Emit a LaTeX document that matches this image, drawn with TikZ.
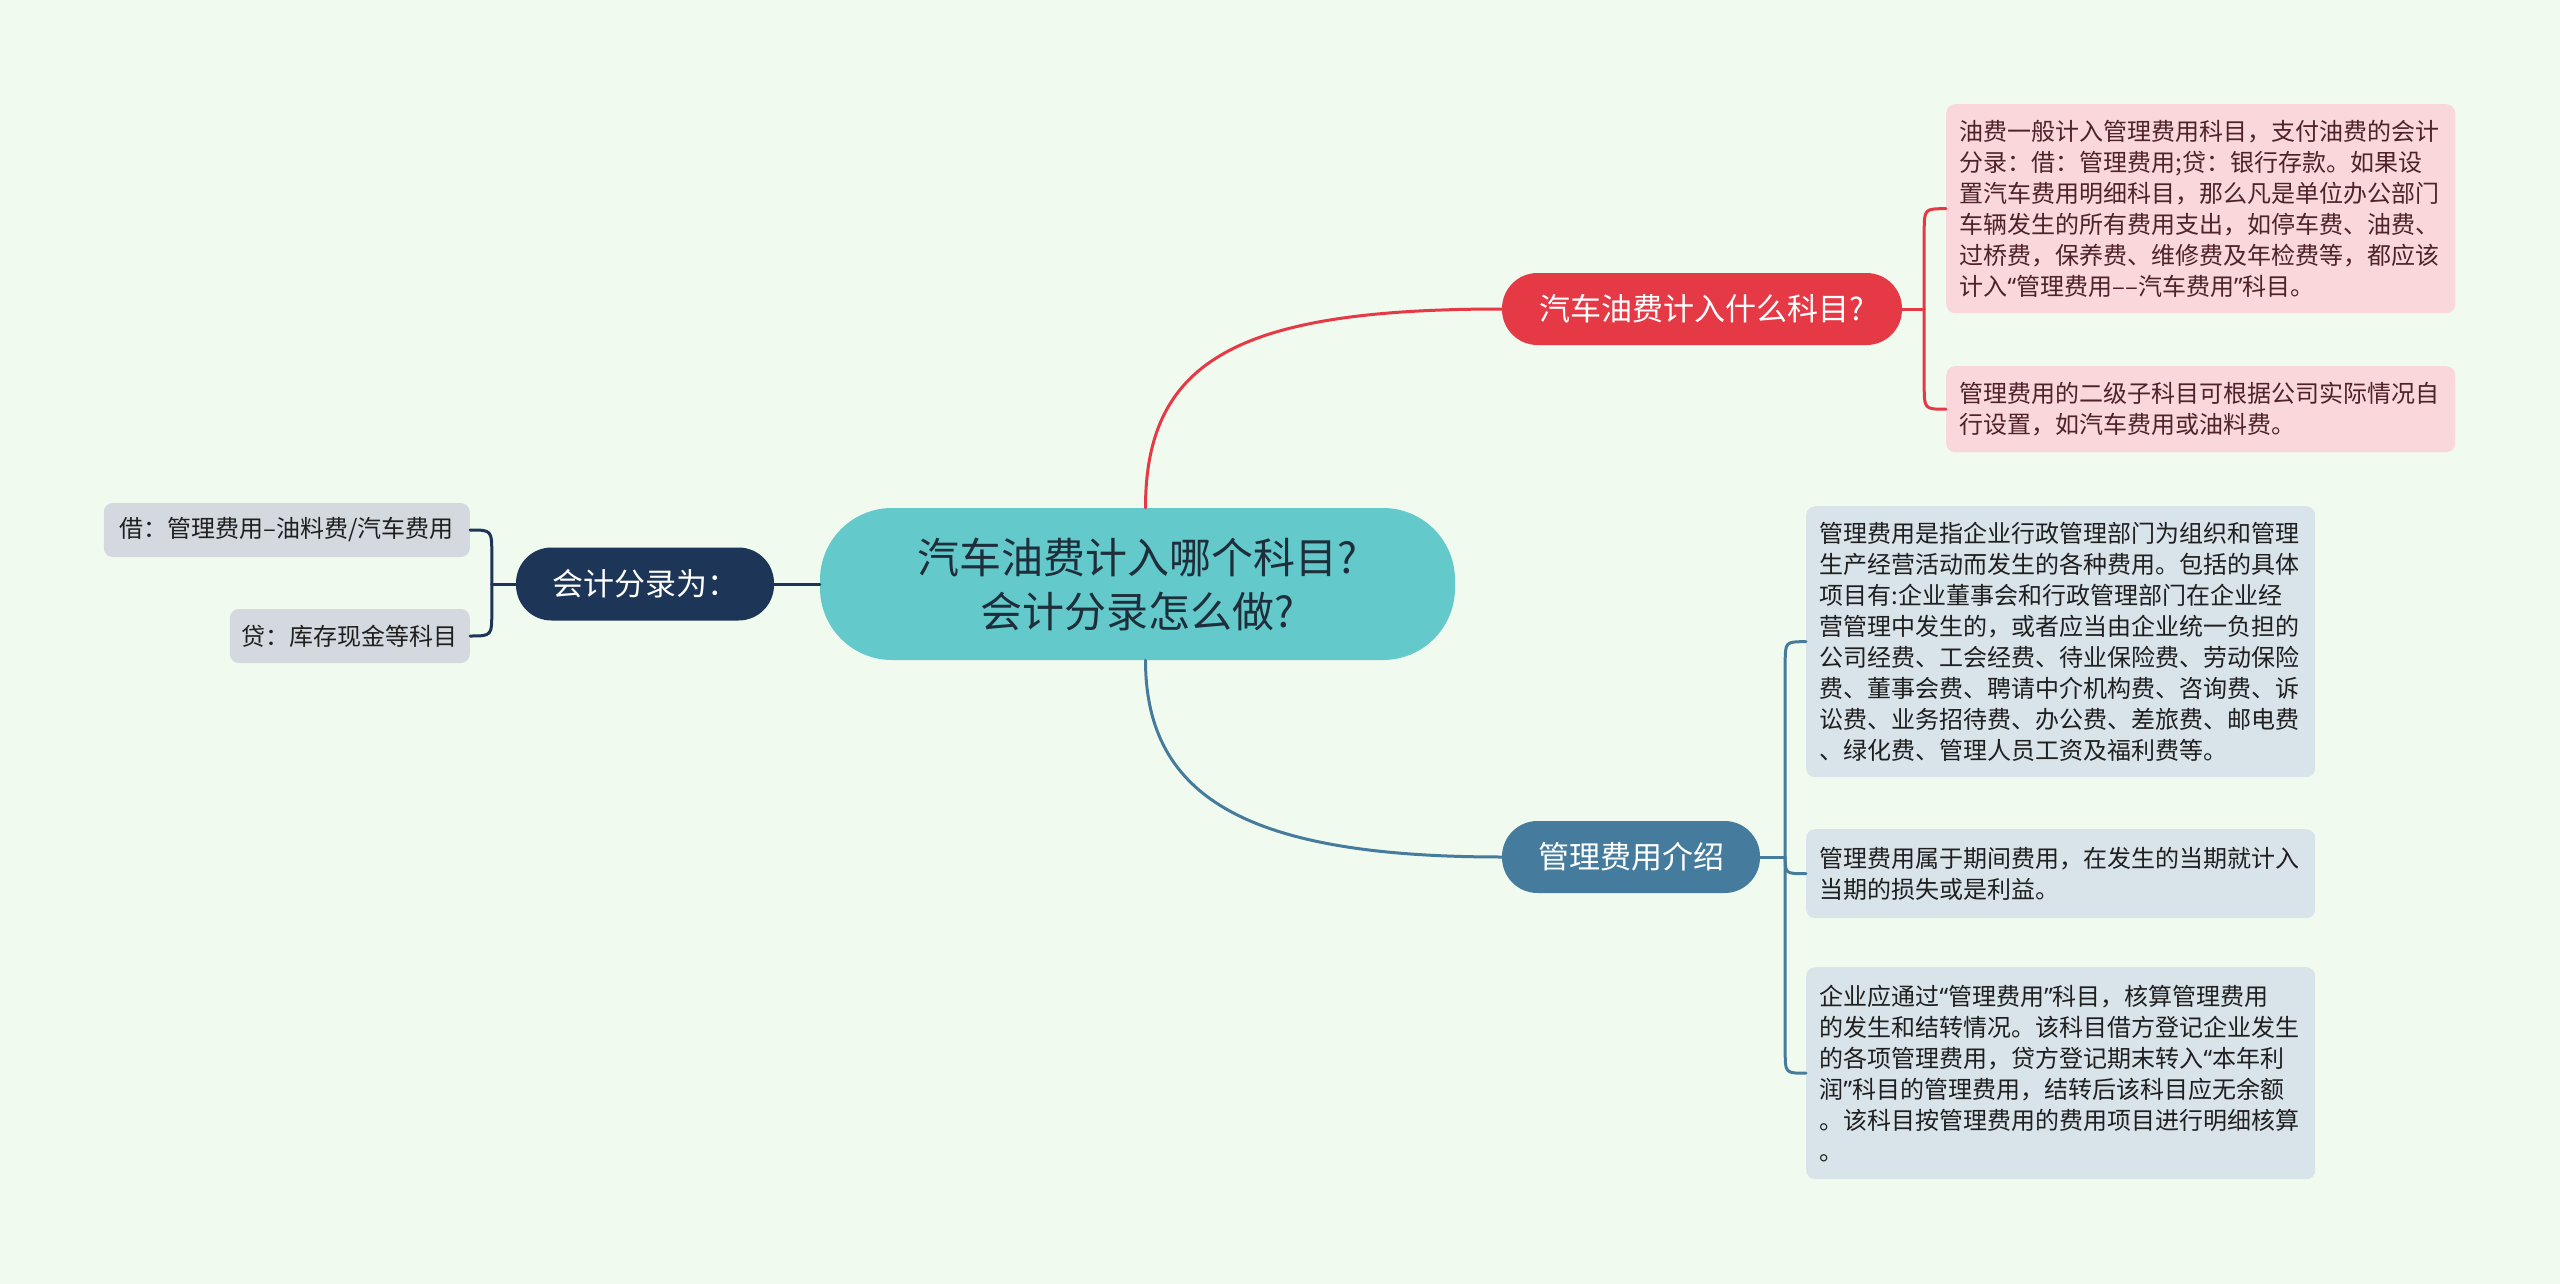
\documentclass[tikz,border=0pt]{standalone}
\usepackage{fontspec}
\setmainfont{Noto Sans CJK SC}
\newfontfamily\quotefont{Noto Sans}
\newcommand\qopen{{\quotefont “}}
\newcommand\qclose{{\quotefont ”}}
\usetikzlibrary{calc}
\definecolor{bgc}{HTML}{F1FAEE}
\definecolor{redc}{HTML}{E63946}
\definecolor{pinkc}{HTML}{F9D7DB}
\definecolor{pinktxt}{HTML}{4D2327}
\definecolor{bluec}{HTML}{457B9D}
\definecolor{grayc}{HTML}{D9E3EA}
\definecolor{navyc}{HTML}{1D3557}
\definecolor{leftc}{HTML}{D4D9E0}
\definecolor{tealc}{HTML}{63C9CB}
\definecolor{darktxt}{HTML}{1E2E3A}
\begin{document}
\begin{tikzpicture}[x=1pt,y=-1pt,
  topic/.style={rounded corners=35.5pt, minimum height=72pt, text=white, inner sep=0pt,
    font=\fontsize{31pt}{36pt}\selectfont},
  rootnode/.style={rounded corners=72pt, fill=tealc, minimum width=635pt, minimum height=152pt,
    align=center, text=darktxt, inner sep=0pt, font=\fontsize{42pt}{54pt}\selectfont},
  infobox/.style={anchor=north west, rounded corners=9pt, text width=482pt, inner xsep=13.5pt,
    inner ysep=0pt, align=left, font=\fontsize{24pt}{31pt}\selectfont},
  pinkbox/.style={infobox, fill=pinkc, text=pinktxt},
  graybox/.style={infobox, fill=grayc, text=black!88},
  leftbox/.style={anchor=east, rounded corners=9pt, fill=leftc, text=black!88, minimum height=54pt,
    inner xsep=12pt, inner ysep=0pt, font=\fontsize{24pt}{31pt}\selectfont},
  conn/.style={line width=3pt, line cap=round, line join=round}
]
\fill[bgc] (0,0) rectangle (2560,1284);
\useasboundingbox (0,0) rectangle (2560,1284);

% main nodes
\node[rootnode] (c) at (1137.5,584) {汽车油费计入哪个科目?\\会计分录怎么做?};
\node[topic, fill=redc, minimum width=400pt] (r) at (1702,309) {汽车油费计入什么科目?};
\node[topic, fill=bluec, minimum width=258pt] (b) at (1631,857) {管理费用介绍};
\node[topic, fill=navyc, minimum width=258pt, minimum height=73pt] (n) at (645,584) {会计分录为：};

% pink boxes
\node[pinkbox, minimum height=209pt] (p1) at (1946,104) {油费一般计入管理费用科目，支付油费的会计\\分录：借：管理费用;贷：银行存款。如果设\\置汽车费用明细科目，那么凡是单位办公部门\\车辆发生的所有费用支出，如停车费、油费、\\过桥费，保养费、维修费及年检费等，都应该\\计入\qopen 管理费用––汽车费用\qclose 科目。};
\node[pinkbox, minimum height=86pt] (p2) at (1946,366) {管理费用的二级子科目可根据公司实际情况自\\行设置，如汽车费用或油料费。};

% gray boxes
\node[graybox, minimum height=271pt] (g1) at (1806,506) {管理费用是指企业行政管理部门为组织和管理\\生产经营活动而发生的各种费用。包括的具体\\项目有:企业董事会和行政管理部门在企业经\\营管理中发生的，或者应当由企业统一负担的\\公司经费、工会经费、待业保险费、劳动保险\\费、董事会费、聘请中介机构费、咨询费、诉\\讼费、业务招待费、办公费、差旅费、邮电费\\、绿化费、管理人员工资及福利费等。};
\node[graybox, minimum height=89pt] (g2) at (1806,829) {管理费用属于期间费用，在发生的当期就计入\\当期的损失或是利益。};
\node[graybox, minimum height=212pt] (g3) at (1806,967) {企业应通过\qopen 管理费用\qclose 科目，核算管理费用\\的发生和结转情况。该科目借方登记企业发生\\的各项管理费用，贷方登记期末转入\qopen 本年利\\润\qclose 科目的管理费用，结转后该科目应无余额\\。该科目按管理费用的费用项目进行明细核算\\。};

% left boxes
\node[leftbox, minimum width=366pt] (l1) at (470,530) {借：管理费用–油料费/汽车费用};
\node[leftbox] (l2) at (470,636) {贷：库存现金等科目};

% connectors from root
\draw[conn, redc] ($(c.north)+(8,0)$) .. controls +(0,-150) and +(-260,0) .. (r.west);
\draw[conn, bluec] ($(c.south)+(8,0)$) .. controls +(0,140) and +(-250,0) .. (b.west);
\draw[conn, navyc] (c.west) -- (n.east);

% red bracket
\coordinate (jr) at ($(r.east)+(22,0)$);
\draw[conn, redc] (r.east) -- (jr);
\draw[conn, redc] (jr) -- ($(jr|-p1.west)+(0,24)$) .. controls (jr|-p1.west) .. (p1.west);
\draw[conn, redc] (jr) -- ($(jr|-p2.west)+(0,-24)$) .. controls (jr|-p2.west) .. (p2.west);

% navy bracket
\coordinate (jn) at ($(n.west)+(-24,0)$);
\draw[conn, navyc] (n.west) -- (jn);
\draw[conn, navyc] (jn) -- ($(jn|-l1.east)+(0,25)$) .. controls (jn|-l1.east) .. (l1.east);
\draw[conn, navyc] (jn) -- ($(jn|-l2.east)+(0,-25)$) .. controls (jn|-l2.east) .. (l2.east);

% blue bracket
\coordinate (jb) at ($(b.east)+(25,0)$);
\draw[conn, bluec] (b.east) -- (jb);
\draw[conn, bluec] (jb) -- ($(jb|-g1.west)+(0,22)$) .. controls (jb|-g1.west) .. (g1.west);
\draw[conn, bluec] (jb) .. controls (jb|-g2.west) .. (g2.west);
\draw[conn, bluec] (jb) -- ($(jb|-g3.west)+(0,-22)$) .. controls (jb|-g3.west) .. (g3.west);
\end{tikzpicture}
\end{document}
